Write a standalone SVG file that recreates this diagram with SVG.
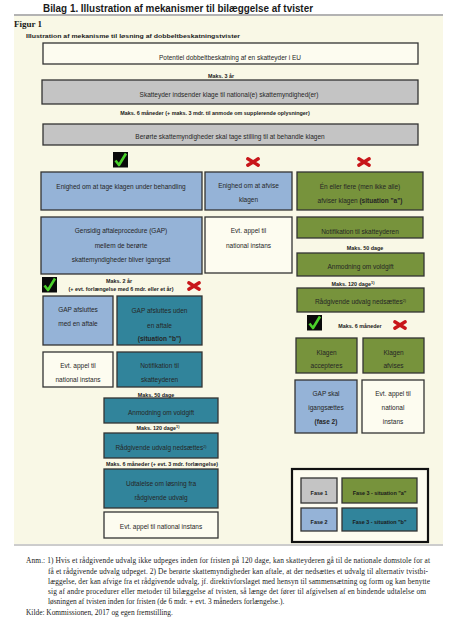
<svg xmlns="http://www.w3.org/2000/svg" width="454" height="637" viewBox="0 0 454 637">
<style>
.t{font-family:"Liberation Sans",Arial,sans-serif;font-size:6.5px;fill:#262626;text-anchor:middle}
.bo{font-weight:bold}
.m{font-family:"Liberation Sans",Arial,sans-serif;font-size:5.4px;font-weight:bold;fill:#1a1a1a;text-anchor:middle}
.sup{font-size:3.8px}
.box{stroke:#333;stroke-width:1.3}
.cream{fill:#fdfcf0}
.gray{fill:#c4c4c4}
.blue{fill:#95b3d7}
.green{fill:#77933c}
.teal{fill:#31849b}
.fn{font-family:"Liberation Serif","Times New Roman",serif;font-size:7.4px;fill:#222}
</style>
<defs>
<g id="check">
<rect x="0" y="0" width="15" height="15.5" fill="#0a0a0a"/>
<path d="M2.5 8.5 L6 13 L13 1.5" fill="none" stroke="#4bd12a" stroke-width="2.6" stroke-linejoin="round"/>
</g>
<g id="cross">
<path d="M1.8 1.8 L12.2 8.2 M1.8 8.2 L12.2 1.8" stroke="#c8161a" stroke-width="3.4" stroke-linecap="round"/>
</g>
</defs>
<rect x="0" y="0" width="454" height="637" fill="#ffffff"/>
<rect x="14" y="16" width="429" height="528" fill="#f9f8e6"/>
<line x1="14" y1="15" x2="443" y2="15" stroke="#9a9a9a" stroke-width="1.6"/>
<line x1="14" y1="545" x2="443" y2="545" stroke="#9a9a9a" stroke-width="1"/>
<text x="43" y="12.3" font-family="'Liberation Sans',Arial,sans-serif" font-size="11.5" font-weight="bold" fill="#1a1a1a" textLength="270" lengthAdjust="spacingAndGlyphs">Bilag 1. Illustration af mekanismer til bilæggelse af tvister</text>
<text x="14" y="26.5" font-family="'Liberation Serif','Times New Roman',serif" font-size="9" font-weight="bold" fill="#1a1a1a">Figur 1</text>
<text x="26" y="38.3" font-family="'Liberation Sans',Arial,sans-serif" font-size="5.8" font-weight="bold" fill="#1a1a1a" textLength="214" lengthAdjust="spacingAndGlyphs">Illustration af mekanisme til løsning af dobbeltbeskatningstvister</text>

<g id="connectors"/>

<g id="n-potentiel"><rect class="box cream" x="43" y="43" width="375" height="21"/><text class="t" x="230" y="59.5">Potentiel dobbeltbeskatning af en skatteyder i EU</text></g>
<g id="l-maks3"><text class="m" x="221" y="78">Maks. 3 år</text></g>
<g id="n-klage"><rect class="box gray" x="42" y="80" width="376" height="24"/><text class="t" x="229" y="97.3">Skatteyder indsender klage til national(e) skattemyndighed(er)</text></g>
<g id="l-maks6"><text class="m" x="215" y="114.5">Maks. 6 måneder (+ maks. 3 mdr. til anmode om supplerende oplysninger)</text></g>
<g id="n-stilling"><rect class="box gray" x="43" y="124" width="375" height="21"/><text class="t" x="230" y="139">Berørte skattemyndigheder skal tage stilling til at behandle klagen</text></g>

<use href="#check" x="113" y="152"/>
<use href="#cross" x="246" y="157"/>
<use href="#cross" x="357" y="157"/>

<g id="n-enighed-tage"><rect class="box blue" x="41" y="172" width="161" height="38"/><text class="t" x="121" y="189">Enighed om at tage klagen under behandling</text></g>
<g id="n-enighed-afvise"><rect class="box blue" x="205" y="172" width="87" height="38"/><text class="t" x="248.5" y="188">Enighed om at afvise</text><text class="t" x="248.5" y="202">klagen</text></g>
<g id="n-en-eller-flere"><rect class="box green" x="297" y="172" width="126" height="38"/><text class="t" x="360" y="188.5">Én eller flere (men ikke alle)</text><text class="t" x="360" y="203">afviser klagen <tspan class="bo">(situation "a")</tspan></text></g>

<g id="n-gap"><rect class="box blue" x="41" y="217" width="161" height="57"/><text class="t" x="121" y="233">Gensidig aftaleprocedure (GAP)</text><text class="t" x="121" y="247.5">mellem de berørte</text><text class="t" x="121" y="261.5">skattemyndigheder bliver igangsat</text></g>
<g id="n-appel-1"><rect class="box cream" x="205" y="217" width="87" height="56"/><text class="t" x="248.5" y="233">Evt. appel til</text><text class="t" x="248.5" y="247.5">national instans</text></g>
<g id="n-notif-a"><rect class="box green" x="297" y="217" width="126" height="21"/><text class="t" x="360" y="234">Notifikation til skatteyderen</text></g>
<g id="l-maks50-a"><text class="m" x="365" y="249.5">Maks. 50 dage</text></g>
<g id="n-anmod-a"><rect class="box green" x="297" y="253" width="127" height="23"/><text class="t" x="360.5" y="269">Anmodning om voldgift</text></g>
<g id="l-maks120-a"><text class="m" x="353" y="285.5">Maks. 120 dage<tspan class="sup" dy="-1.8">1)</tspan></text></g>
<g id="n-raad-a"><rect class="box green" x="297" y="288" width="127" height="24"/><text class="t" x="360.5" y="304">Rådgivende udvalg nedsættes<tspan class="sup" dy="-2">2)</tspan></text></g>

<use href="#check" x="307" y="315"/>
<g id="l-maks6-a"><text class="m" x="360" y="328">Maks. 6 måneder</text></g>
<use href="#cross" x="393" y="320"/>

<g id="n-klagen-acc"><rect class="box green" x="296" y="338" width="61" height="35"/><text class="t" x="326.5" y="354.5">Klagen</text><text class="t" x="326.5" y="368">accepteres</text></g>
<g id="n-klagen-afv"><rect class="box green" x="363" y="338" width="61" height="35"/><text class="t" x="393.5" y="354.5">Klagen</text><text class="t" x="393.5" y="368">afvises</text></g>
<g id="n-gap-fase2"><rect class="box blue" x="295" y="380" width="62" height="53"/><text class="t" x="326" y="395.5">GAP skal</text><text class="t" x="326" y="410">igangsættes</text><text class="t bo" x="326" y="424">(fase 2)</text></g>
<g id="n-appel-a"><rect class="box cream" x="362" y="380" width="62" height="53"/><text class="t" x="393" y="395.5">Evt. appel til</text><text class="t" x="393" y="410">national</text><text class="t" x="393" y="424">instans</text></g>

<use href="#check" x="42" y="277"/>
<g id="l-maks2"><text class="m" x="119" y="283">Maks. 2 år</text><text class="m" x="121" y="290.5">(+ evt. forlængelse med 6 mdr. eller et år)</text></g>
<use href="#cross" x="187" y="281"/>

<g id="n-gap-aftale"><rect class="box blue" x="43" y="296" width="70" height="49"/><text class="t" x="78" y="312">GAP afsluttes</text><text class="t" x="78" y="326">med en aftale</text></g>
<g id="n-gap-uden"><rect class="box teal" x="117" y="296" width="85" height="49"/><text class="t" x="159.5" y="313">GAP afsluttes uden</text><text class="t" x="159.5" y="327.5">en aftale</text><text class="t bo" x="159.5" y="340.5">(situation "b")</text></g>
<g id="n-appel-2"><rect class="box cream" x="43" y="352" width="70" height="35"/><text class="t" x="78" y="368">Evt. appel til</text><text class="t" x="78" y="381.5">national instans</text></g>
<g id="n-notif-b"><rect class="box teal" x="117" y="352" width="85" height="35"/><text class="t" x="159.5" y="368">Notifikation til</text><text class="t" x="159.5" y="381.5">skatteyderen</text></g>
<g id="l-maks50-b"><text class="m" x="156" y="397">Maks. 50 dage</text></g>
<g id="n-anmod-b"><rect class="box teal" x="104" y="398" width="114" height="25"/><text class="t" x="161" y="415">Anmodning om voldgift</text></g>
<g id="l-maks120-b"><text class="m" x="158" y="430">Maks. 120 dage<tspan class="sup" dy="-1.8">1)</tspan></text></g>
<g id="n-raad-b"><rect class="box teal" x="104" y="433" width="114" height="25"/><text class="t" x="161" y="449.5">Rådgivende udvalg nedsættes<tspan class="sup" dy="-2">2)</tspan></text></g>
<g id="l-maks6-b"><text class="m" x="162" y="466">Maks. 6 måneder (+ evt. 3 mdr. forlængelse)</text></g>
<g id="n-udtalelse"><rect class="box teal" x="104" y="469" width="114" height="39"/><text class="t" x="161" y="486">Udtalelse om løsning fra</text><text class="t" x="161" y="499.5">rådgivende  udvalg</text></g>
<g id="n-appel-b"><rect class="box cream" x="104" y="512" width="114" height="26"/><text class="t" x="161" y="529">Evt. appel til national instans</text></g>

<g id="legend">
<rect x="292" y="469" width="136" height="73" fill="#fdfcf0" stroke="#111" stroke-width="2.2"/>
<rect class="box gray" x="301" y="478" width="36" height="25"/><text class="m" x="319" y="494.5">Fase 1</text>
<rect class="box green" x="342" y="478" width="75" height="25"/><text class="m" x="379.5" y="494.5">Fase 3 - situation "a"</text>
<rect class="box blue" x="301" y="508" width="36" height="23"/><text class="m" x="319" y="523.5">Fase 2</text>
<rect class="box teal" x="342" y="508" width="75" height="23"/><text class="m" x="379.5" y="523.5">Fase 3 - situation "b"</text>
</g>

<g id="notes">
<text class="fn" x="26" y="563" textLength="404" lengthAdjust="spacing">Anm.: 1) Hvis et rådgivende udvalg ikke udpeges inden for fristen på 120 dage, kan skatteyderen gå til de nationale domstole for at</text>
<text class="fn" x="48" y="573.5" textLength="380" lengthAdjust="spacing">få et rådgivende udvalg udpeget. 2) De berørte skattemyndigheder kan aftale, at der nedsættes et udvalg til alternativ tvistbi-</text>
<text class="fn" x="48" y="583.8" textLength="382" lengthAdjust="spacing">læggelse, der kan afvige fra et rådgivende udvalg, jf. direktivforslaget med hensyn til sammensætning og form og kan benytte</text>
<text class="fn" x="48" y="594" textLength="378" lengthAdjust="spacing">sig af andre procedurer eller metoder til bilæggelse af tvisten, så længe det fører til afgivelsen af en bindende udtalelse om</text>
<text class="fn" x="48" y="604.3">løsningen af tvisten inden for fristen (de 6 mdr. + evt. 3 måneders forlængelse.).</text>
<text class="fn" x="26" y="614.5">Kilde: Kommissionen, 2017 og egen fremstilling.</text>
</g>
</svg>
